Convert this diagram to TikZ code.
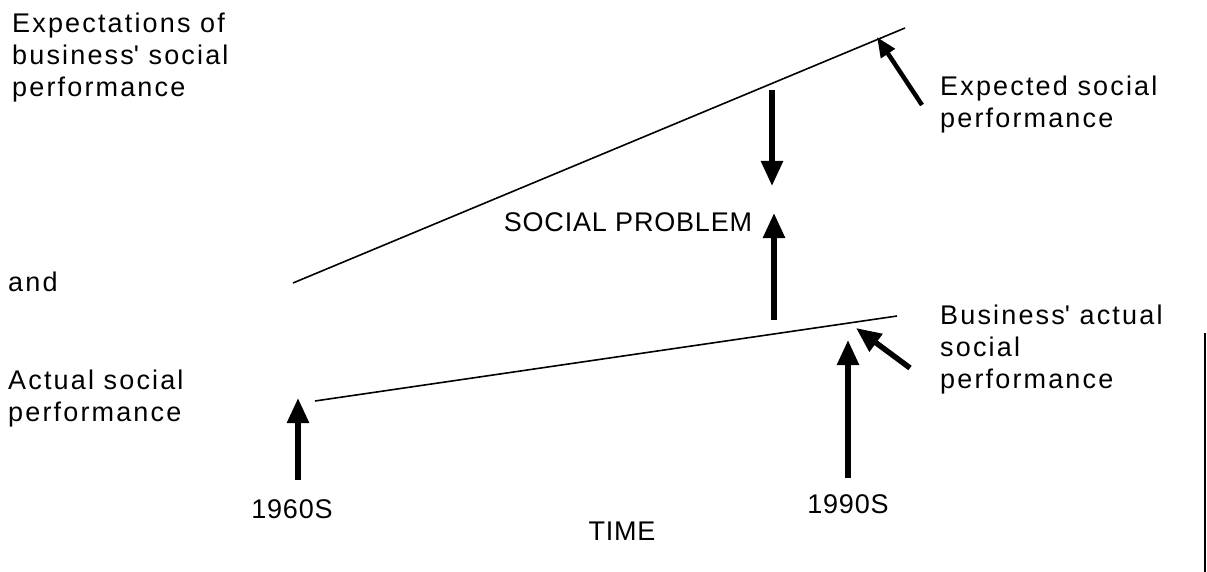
\documentclass[tikz,border=0pt]{standalone}
\usepackage{fontspec}
\setmainfont{Liberation Sans}[LetterSpace=8]
\newfontfamily\capsfont{Liberation Sans}[LetterSpace=3]
\usetikzlibrary{arrows.meta}
\tikzset{
  lbl/.style={font=\fontsize{27}{32}\selectfont, inner sep=0pt, align=left, anchor=north west},
  caplbl/.style={font=\capsfont\fontsize{27}{32}\selectfont, inner sep=0pt, anchor=base},
  bigarrow/.style={line width=5.5pt, -{Triangle[length=25pt,width=21pt]}},
  slimarrow/.style={line width=4.5pt, -{Triangle[length=20pt,width=16pt]}},
  trend/.style={line width=1.6pt},
}
\begin{document}
\begin{tikzpicture}[x=1pt,y=-1pt]
\useasboundingbox (0,0) rectangle (1207,572);
% the two trend lines
\coordinate (exp0) at (293,283);
\coordinate (exp1) at (905,28);
\coordinate (act0) at (315,401);
\coordinate (act1) at (897,316);
\draw[trend] (exp0) -- (exp1);
\draw[trend] (act0) -- (act1);

% labels
\node[lbl] (expect) at (12,13) {Expectations of\\business\textquotesingle{} social\\performance};
\node[lbl] (and) at (8,272) {and};
\node[lbl] (actual) at (8,370) {Actual social\\performance};
\node[lbl] (expected) at (940,76) {Expected social\\performance};
\node[lbl] (busact) at (940,305) {Business\textquotesingle{} actual\\social\\performance};
\node[caplbl] (problem) at (628,232) {SOCIAL PROBLEM};
\node[caplbl] (y60) at (292,518) {1960S};
\node[caplbl] (y90) at (848,513) {1990S};
\node[caplbl] (time) at (622,540) {TIME};

% arrows
\coordinate (gapTop) at (772,90);
\coordinate (gapMidA) at (772,186);
\coordinate (gapBot) at (774,320);
\coordinate (gapMidB) at (774,213);
\draw[bigarrow] (gapTop) -- (gapMidA);
\draw[bigarrow] (gapBot) -- (gapMidB);
\coordinate (expTail) at (922,105);
\coordinate (expTip) at (877,37);
\draw[slimarrow] (expTail) -- (expTip);
\coordinate (busTail) at (910,368);
\coordinate (busTip) at (856,328);
\draw[bigarrow] (busTail) -- (busTip);
\coordinate (n60Bot) at (298,480);
\coordinate (n60Top) at (298,398);
\draw[bigarrow] (n60Bot) -- (n60Top);
\coordinate (n90Bot) at (848,478);
\coordinate (n90Top) at (848,340);
\draw[bigarrow] (n90Bot) -- (n90Top);

% edge of the scan
\coordinate (edgeTop) at (1205,333);
\coordinate (edgeBot) at (1205,572);
\draw[line width=1.5pt] (edgeTop) -- (edgeBot);
\end{tikzpicture}
\end{document}
